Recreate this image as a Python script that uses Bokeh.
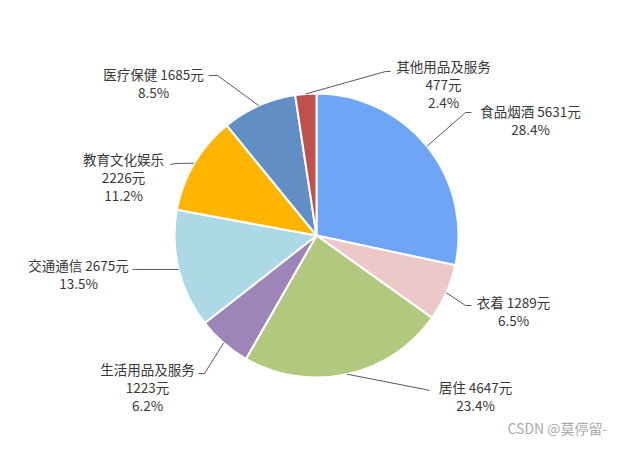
import numpy as np
from bokeh.plotting import figure
from bokeh.models import Range1d
from bokeh.core.properties import value
from bokeh.embed import file_html
from bokeh.resources import INLINE

# data
names = ["食品烟酒", "衣着", "居住", "生活用品及服务", "交通通信", "教育文化娱乐", "医疗保健", "其他用品及服务"]
amounts = [5631, 1289, 4647, 1223, 2675, 2226, 1685, 477]
colors = ["#6ea6f5", "#ecc8c8", "#b0c97f", "#9d86b7", "#add8e6", "#ffb400", "#618ec4", "#c0504d"]

# layout (screen pixels): label centre x, first line y, whether value goes on its own line,
# leader elbow and end points
label_x = [530, 513, 475, 147, 78, 123, 153, 443]
label_y = [110, 301, 386, 368, 264, 158, 73, 65]
split = [False, False, False, True, False, True, False, True]
elbow = [(465, 112), (465, 305), (425, 389), (204, 373), (135, 269), (175, 163), (217, 75), (385, 71)]
lead_end = [(471, 112), (471, 305), (429, 390), (198, 373), (132, 269), (170, 164), (208, 75), (390, 71)]

W, H = 612, 438
CX, CY, R = 316, 235, 142
FONT = "Noto Sans CJK SC"


def Y(ys):
    return H - ys


p = figure(width=W, height=H, output_backend="svg", toolbar_location=None,
           x_range=Range1d(0, W), y_range=Range1d(0, H), min_border=0)
p.axis.visible = False
p.grid.visible = False
p.outline_line_color = None
p.background_fill_color = "white"

vals = np.array(amounts, dtype=float)
frac = vals / vals.sum()
cum = np.concatenate([[0], np.cumsum(frac)])
start = np.pi / 2 - 2 * np.pi * cum[1:]
end = np.pi / 2 - 2 * np.pi * cum[:-1]

p.wedge(x=CX, y=Y(CY), radius=R, start_angle=start, end_angle=end,
        fill_color=colors, line_color="white", line_width=2)

# leader lines start on the rim at each slice's middle angle
mid = (cum[:-1] + cum[1:]) / 2 * 2 * np.pi
xs, ys = [], []
for i in range(len(names)):
    sx = CX + R * np.sin(mid[i])
    sy = CY - R * np.cos(mid[i])
    xs.append([sx, elbow[i][0], lead_end[i][0]])
    ys.append([Y(sy), Y(elbow[i][1]), Y(lead_end[i][1])])
p.multi_line(xs, ys, line_color="#595959", line_width=1)

tx, ty, tt = [], [], []
for i, n in enumerate(names):
    pct = "%.1f%%" % (frac[i] * 100)
    if split[i]:
        lines = [n, "%d元" % amounts[i], pct]
    else:
        lines = ["%s %d元" % (n, amounts[i]), pct]
    for k, s in enumerate(lines):
        tx.append(label_x[i])
        ty.append(Y(label_y[i] + k * 18))
        tt.append(s)
p.text(tx, ty, text=tt, text_font=value(FONT), text_font_size="13.5px",
       text_color="#383838", text_align="center", text_baseline="middle")

p.text([557], [Y(427)], text=["CSDN @莫停留-"], text_font=value(FONT),
       text_font_size="14px", text_color="#aaaaaa", text_align="center",
       text_baseline="middle")

open("out.html", "w").write(file_html(p, INLINE))
